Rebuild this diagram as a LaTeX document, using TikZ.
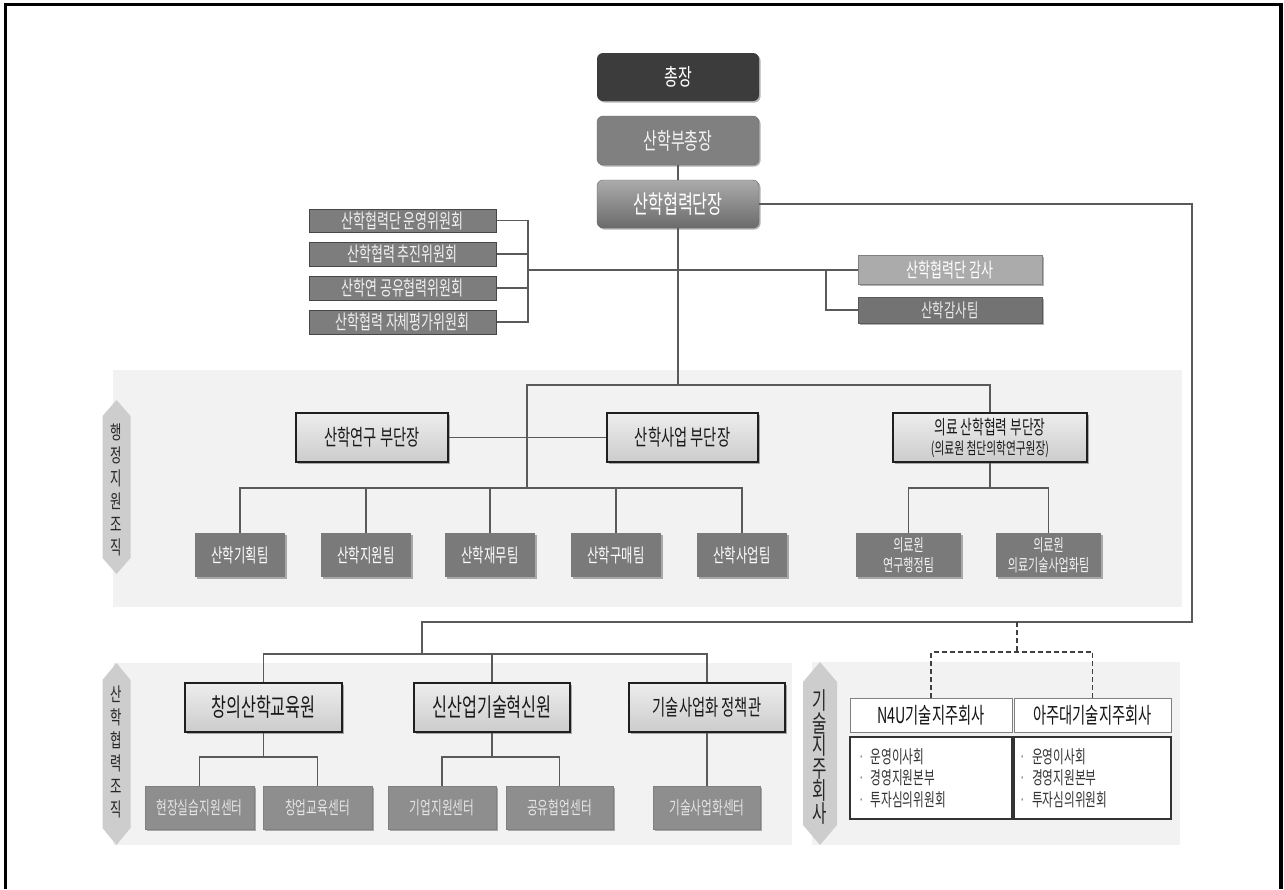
\documentclass[tikz,border=0pt]{standalone}
\usepackage{fontspec}
\setmainfont[FakeStretch=0.65]{Noto Sans CJK KR}
\usetikzlibrary{shadows,calc}
\definecolor{linec}{HTML}{5A5A5A}
\definecolor{regionc}{HTML}{F2F2F2}
\definecolor{sidec}{HTML}{CDCDCD}
\definecolor{chiefc}{HTML}{3C3C3C}
\definecolor{vpc}{HTML}{808080}
\definecolor{commc}{HTML}{7D7D7D}
\definecolor{teamc}{HTML}{7A7A7A}
\definecolor{centc}{HTML}{8E8E8E}
\definecolor{dotc}{HTML}{888888}
\newcommand{\fs}[2]{\fontsize{#1}{#2}\selectfont}
\begin{document}
\begin{tikzpicture}[x=1pt,y=-1pt,
  base/.style={inner sep=0pt, align=center},
  shad/.style={drop shadow={shadow xshift=1.5pt,shadow yshift=-1.5pt,opacity=0.3,fill=black}},
  chief/.style={base, rounded corners=6pt, fill=chiefc, text=white, font=\fs{23}{26}, shad},
  vp/.style={base, rounded corners=6pt, fill=vpc, draw=black!58, text=white!95!black, font=\fs{23}{26}, shad},
  dean/.style={base, rounded corners=6pt, top color=black!33, bottom color=black!58, draw=black!60, text=white, font=\fs{25}{28}, shad},
  comm/.style={base, fill=commc, draw=black!72, line width=1pt, text=white!94!black, font=\fs{20}{22}},
  audita/.style={base, fill=black!33, draw=black!50, line width=1pt, text=white, font=\fs{20}{22}, shad},
  auditb/.style={base, fill=black!55, draw=black!65, line width=1pt, text=white!92!black, font=\fs{19}{21}, shad},
  lbox/.style={base, top color=black!7, bottom color=black!20, draw=black!88, line width=1.3pt, text=black!90, shad},
  team/.style={base, fill=teamc, text=white, font=\fs{19}{21}, shad},
  mteam/.style={base, fill=teamc, text=white!95!black, font=\fs{17}{20}, shad},
  cent/.style={base, fill=centc, draw=black!50, line width=0.6pt, text=white!90!black, font=\fs{18}{20}, shad},
  hold/.style={base, fill=white, draw=black!50, line width=1pt, text=black!92, font=\fs{22}{24}},
  listbox/.style={base, fill=white, draw=black!80, line width=1.3pt, text=black!80, font=\fs{18}{21.5}, align=left, text width=146pt},
  region/.style={fill=regionc},
  side/.style={fill=sidec},
  sidetxt/.style={base, text=black!85, font=\fs{19}{23}},
  conn/.style={draw=linec, line width=1.2pt},
  dconn/.style={draw=black!75, line width=1.5pt, dash pattern=on 5pt off 3pt}
]
\useasboundingbox (0,0) rectangle (1284,889);
\fill[white] (0,0) rectangle (1284,889);
% frame
\draw[line width=3.5pt] (5.5,889) -- (5.5,4.5) -- (1281,4.5) -- (1281,889);

% regions
\fill[region] (113,370) rectangle (1182,607);
\fill[region] (113,663) rectangle (792,845);
\fill[region] (812,662) rectangle (1180,845);

% side labels
\fill[side] (116.5,400) -- (130.5,416) -- (130.5,558) -- (116.5,574) -- (102.5,558) -- (102.5,416) -- cycle;
\node[sidetxt] (L1) at (116.5,490) {행\\정\\지\\원\\조\\직};
\fill[side] (116.5,663) -- (130.5,680) -- (130.5,828) -- (116.5,845) -- (102.5,828) -- (102.5,680) -- cycle;
\node[sidetxt] (L2) at (116.5,752) {산\\학\\협\\력\\조\\직};
\fill[side] (820,662) -- (837,682) -- (837,825) -- (820,845) -- (803,825) -- (803,682) -- cycle;
\node[sidetxt, font=\fs{24}{22.6}] (L3) at (820,757) {기\\술\\지\\주\\회\\사};

% top chain
\node[chief, minimum width=162pt, minimum height=48pt] (n0) at (678,77) {총장};
\node[vp, minimum width=162pt, minimum height=49pt] (n1) at (678,140.5) {산학부총장};
\node[dean, minimum width=162pt, minimum height=48pt] (n2) at (678,204) {산학협력단장};

% committees
\node[comm, minimum width=187pt, minimum height=23pt] (c1) at (402.5,220.5) {산학협력단 운영위원회};
\node[comm, minimum width=187pt, minimum height=24pt] (c2) at (402.5,254) {산학협력 추진위원회};
\node[comm, minimum width=187pt, minimum height=24pt] (c3) at (402.5,288) {산학연 공유협력위원회};
\node[comm, minimum width=187pt, minimum height=24pt] (c4) at (402.5,322) {산학협력 자체평가위원회};

% audit
\node[audita, minimum width=184pt, minimum height=29pt] (a1) at (950,270) {산학협력단 감사};
\node[auditb, minimum width=184pt, minimum height=26pt] (a2) at (950,310) {산학감사팀};

% vice deans
\node[lbox, font=\fs{22}{25}, minimum width=152pt, minimum height=49pt] (r1) at (372,437.5) {산학연구 부단장};
\node[lbox, font=\fs{22}{25}, minimum width=151pt, minimum height=49pt] (r2) at (682.5,437.5) {산학사업 부단장};
\node[lbox, font=\fs{19.5}{21}, minimum width=194pt, minimum height=49pt] (r3) at (990,437.5) {의료 산학협력 부단장\\[-1pt]{\fs{16.5}{18}(의료원 첨단의학연구원장)}};

% teams
\node[team, minimum width=90pt, minimum height=44pt] (t1) at (240,555) {산학기획팀};
\node[team, minimum width=90pt, minimum height=44pt] (t2) at (366,555) {산학지원팀};
\node[team, minimum width=90pt, minimum height=44pt] (t3) at (490,555) {산학재무팀};
\node[team, minimum width=90pt, minimum height=44pt] (t4) at (616,555) {산학구매팀};
\node[team, minimum width=90pt, minimum height=44pt] (t5) at (742,555) {산학사업팀};
\node[mteam, minimum width=105pt, minimum height=44pt] (m1) at (908.5,555) {의료원\\연구행정팀};
\node[mteam, minimum width=105pt, minimum height=44pt] (m2) at (1048.5,555) {의료원\\의료기술사업화팀};

% industry-academia organizations
\node[lbox, font=\fs{25}{28}, minimum width=157pt, minimum height=49pt] (s1) at (263.5,707.5) {창의산학교육원};
\node[lbox, font=\fs{25}{28}, minimum width=156pt, minimum height=49pt] (s2) at (492,707.5) {신산업기술혁신원};
\node[lbox, font=\fs{22}{25}, minimum width=156pt, minimum height=49pt] (s3) at (707,707.5) {기술사업화 정책관};

% centers
\node[cent, minimum width=109pt, minimum height=43pt] (e1) at (199.5,807.5) {현장실습지원센터};
\node[cent, minimum width=109pt, minimum height=43pt] (e2) at (317.5,807.5) {창업교육센터};
\node[cent, minimum width=108pt, minimum height=43pt] (e3) at (442,807.5) {기업지원센터};
\node[cent, minimum width=107pt, minimum height=43pt] (e4) at (559.5,807.5) {공유협업센터};
\node[cent, minimum width=107pt, minimum height=43pt] (e5) at (707,807.5) {기술사업화센터};

% holding companies
\node[hold, minimum width=162pt, minimum height=34pt] (h1) at (931,715) {N4U기술지주회사};
\node[hold, minimum width=157pt, minimum height=34pt] (h2) at (1092.5,715) {아주대기술지주회사};
\node[listbox, minimum width=162pt, minimum height=82pt] (l1) at (931,778) {{\color{dotc}·}\ 운영이사회\\{\color{dotc}·}\ 경영지원본부\\{\color{dotc}·}\ 투자심의위원회};
\node[listbox, minimum width=157pt, minimum height=82pt] (l2) at (1092.5,778) {{\color{dotc}·}\ 운영이사회\\{\color{dotc}·}\ 경영지원본부\\{\color{dotc}·}\ 투자심의위원회};

% coordinates
\coordinate (cb) at (528,270);
\coordinate (ab) at (826,270);
\coordinate (tl) at (527,385);
\coordinate (bus) at (527,488);
\coordinate (mbus) at (990,488);
\coordinate (rc2) at (1192,622);
\coordinate (lb) at (422,622);
\coordinate (lbus) at (422,654);
\coordinate (y757) at (0,757);
\coordinate (dt) at (1017,622);
\coordinate (db) at (1017,652);

% connectors
\draw[conn] (n1.south) -- (n2.north);
\draw[conn] (c1.east) -| (cb) |- (c4.east);
\draw[conn] (c2.east) -| (cb);
\draw[conn] (c3.east) -| (cb);
\draw[conn] (cb) -- (ab) -- (a1.west);
\draw[conn] (ab) |- (a2.west);
\draw[conn] (n2.south) -- (n2.south |- tl);
\draw[conn] (r3.north) |- (tl) -- (bus);
\draw[conn] (r1.east) -- (r2.west);
\draw[conn] (t1.north) -- (t1.north |- bus) -- (t5.north |- bus) -- (t5.north);
\draw[conn] (t2.north) -- (t2.north |- bus);
\draw[conn] (t3.north) -- (t3.north |- bus);
\draw[conn] (t4.north) -- (t4.north |- bus);
\draw[conn] (r3.south) -- (mbus);
\draw[conn] (m1.north) |- (mbus) -| (m2.north);
\draw[conn] (n2.east) -| (rc2) -- (lb) -- (lbus);
\draw[conn] (s1.north) |- (lbus) -| (s3.north);
\draw[conn] (s2.north) -- (s2.north |- lbus);
\draw[conn] (s1.south) -- (s1.south |- y757);
\draw[conn] (e1.north) |- (s1.south |- y757) -| (e2.north);
\draw[conn] (s2.south) -- (s2.south |- y757);
\draw[conn] (e3.north) |- (s2.south |- y757) -| (e4.north);
\draw[conn] (s3.south) -- (e5.north);
\draw[dconn] (dt) -- (db);
\draw[dconn] (h1.north) |- (db) -| (h2.north);
\end{tikzpicture}
\end{document}
